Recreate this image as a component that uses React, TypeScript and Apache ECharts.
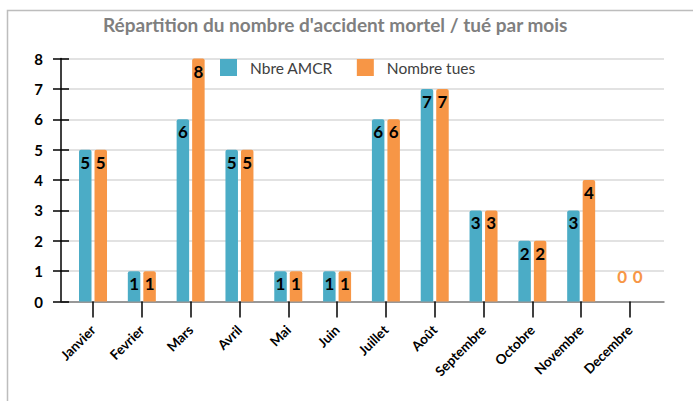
import React, { useEffect, useRef } from "react";
import * as echarts from "echarts";

const months = ["Janvier", "Fevrier", "Mars", "Avril", "Mai", "Juin", "Juillet", "Août", "Septembre", "Octobre", "Novembre", "Decembre"];
const nbreAMCR = [5, 1, 6, 5, 1, 1, 6, 7, 3, 2, 3, 0];
const nombreTues = [5, 1, 8, 5, 1, 1, 6, 7, 3, 2, 4, 0];
const yTicks = [0, 1, 2, 3, 4, 5, 6, 7, 8];

const FONT = "Lato";
const BLUE = "#4bacc6";
const ORANGE = "#f79646";

function toData(values: number[]) {
  return values.map((v) =>
    v === 0
      ? { value: v, label: { position: "top", distance: 17, color: ORANGE } }
      : v
  );
}

export default function App() {
  const ref = useRef<HTMLDivElement>(null);
  useEffect(() => {
    if (!ref.current) return;
    const chart = echarts.init(ref.current, null, { renderer: "svg" });
    const yMax = yTicks[yTicks.length - 1];
    const top = 58.5;
    const bottom = 401 - 301.5;
    const labelCommon = {
      show: true,
      position: "insideTop",
      distance: 4,
      fontFamily: FONT,
      fontWeight: "bold",
      fontSize: 17,
      color: "#000",
    };
    chart.setOption({
      animation: false,
      backgroundColor: "#fff",
      title: {
        text: "Répartition du nombre d'accident mortel / tué par mois",
        left: 98,
        top: 10,
        textStyle: { fontFamily: FONT, fontWeight: "bold", fontSize: 19, color: "#7f7f7f" },
      },
      graphic: [
        {
          type: "rect",
          shape: { x: 7.5, y: 10.5, width: 720, height: 420 },
          style: { fill: "none", stroke: "#bdbdbd", lineWidth: 1.5 },
          silent: true,
          z: -10,
        },
      ],
      legend: {
        top: 54,
        left: 215,
        itemWidth: 17,
        itemHeight: 17,
        itemGap: 24,
        icon: "rect",
        textStyle: { fontFamily: FONT, fontSize: 15.5, color: "#404040", padding: [0, 0, 0, 8] },
        data: ["Nbre AMCR", "Nombre tues"],
      },
      grid: [
        { left: 61, right: 29, top, bottom },
        { left: 68.6, right: 38.6, top, bottom },
      ],
      xAxis: [
        {
          gridIndex: 0,
          type: "value",
          min: 0,
          max: 1,
          axisLine: { show: true, lineStyle: { color: "#7f7f7f", width: 1.5 } },
          axisTick: { show: false },
          axisLabel: { show: false },
          splitLine: { show: false },
        },
        {
          gridIndex: 1,
          type: "category",
          data: months,
          axisLine: { show: false },
          axisTick: { show: true, alignWithLabel: true, length: 16, lineStyle: { color: "#000", width: 1.5 } },
          axisLabel: {
            rotate: 45,
            margin: 26,
            fontFamily: FONT,
            fontWeight: "bold",
            fontSize: 13.5,
            color: "#000",
            interval: 0,
          },
        },
      ],
      yAxis: [
        {
          gridIndex: 0,
          type: "value",
          position: "left",
          min: 0,
          max: yMax,
          interval: 1,
          axisLine: { show: true, lineStyle: { color: "#000", width: 1.5 } },
          axisTick: { show: true, length: 8, lineStyle: { color: "#000", width: 1.5 } },
          axisLabel: { margin: 18, fontFamily: FONT, fontWeight: "bold", fontSize: 15, color: "#000" },
          splitLine: { show: true, lineStyle: { color: "#d9d9d9", width: 1.5 } },
        },
        {
          gridIndex: 0,
          type: "value",
          position: "left",
          min: 0,
          max: yMax,
          interval: 1,
          axisLine: { show: false },
          axisTick: { show: true, inside: true, length: 8, lineStyle: { color: "#000", width: 1.5 } },
          axisLabel: { show: false },
          splitLine: { show: false },
        },
        {
          gridIndex: 1,
          type: "value",
          min: 0,
          max: yMax,
          show: false,
        },
      ],
      series: [
        {
          name: "Nbre AMCR",
          type: "bar",
          xAxisIndex: 1,
          yAxisIndex: 2,
          barWidth: 12.5,
          barGap: "24%",
          itemStyle: { color: BLUE, borderRadius: [2, 2, 0, 0] },
          label: labelCommon,
          data: toData(nbreAMCR),
        },
        {
          name: "Nombre tues",
          type: "bar",
          xAxisIndex: 1,
          yAxisIndex: 2,
          barWidth: 12.5,
          barGap: "24%",
          itemStyle: { color: ORANGE, borderRadius: [2, 2, 0, 0] },
          label: labelCommon,
          data: toData(nombreTues),
        },
      ],
    });
    return () => chart.dispose();
  }, []);
  return <div ref={ref} style={{ position: "fixed", left: 0, top: 0, width: 693, height: 401 }} />;
}
